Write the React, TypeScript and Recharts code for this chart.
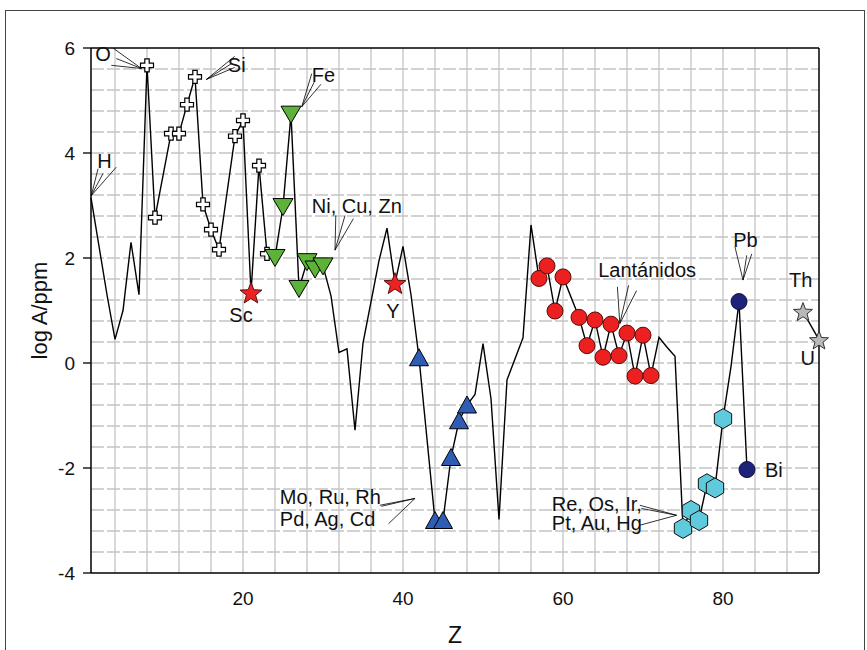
import { ScatterChart, Scatter, XAxis, YAxis, ReferenceLine, Label } from "recharts";

const FONT = '"Liberation Sans", Arial, sans-serif';

// log of abundance in the crust (ppm) against atomic number Z
const crust = [
  { z: 1, v: 3.15 }, { z: 3, v: 1.3 }, { z: 4, v: 0.45 }, { z: 5, v: 1.0 },
  { z: 6, v: 2.3 }, { z: 7, v: 1.3 }, { z: 8, v: 5.67 }, { z: 9, v: 2.77 },
  { z: 11, v: 4.37 }, { z: 12, v: 4.37 }, { z: 13, v: 4.92 }, { z: 14, v: 5.45 },
  { z: 15, v: 3.02 }, { z: 16, v: 2.54 }, { z: 17, v: 2.16 }, { z: 19, v: 4.32 },
  { z: 20, v: 4.62 }, { z: 21, v: 1.34 }, { z: 22, v: 3.76 }, { z: 23, v: 2.08 },
  { z: 24, v: 2.01 }, { z: 25, v: 2.98 }, { z: 26, v: 4.74 }, { z: 27, v: 1.42 },
  { z: 28, v: 1.93 }, { z: 29, v: 1.79 }, { z: 30, v: 1.85 }, { z: 31, v: 1.28 },
  { z: 32, v: 0.2 }, { z: 33, v: 0.27 }, { z: 34, v: -1.28 }, { z: 35, v: 0.38 },
  { z: 37, v: 1.95 }, { z: 38, v: 2.57 }, { z: 39, v: 1.52 }, { z: 40, v: 2.22 },
  { z: 41, v: 1.3 }, { z: 42, v: 0.1 }, { z: 44, v: -3.0 }, { z: 45, v: -3.0 },
  { z: 46, v: -1.8 }, { z: 47, v: -1.1 }, { z: 48, v: -0.8 }, { z: 49, v: -0.6 },
  { z: 50, v: 0.37 }, { z: 51, v: -0.68 }, { z: 52, v: -2.98 }, { z: 53, v: -0.32 },
  { z: 55, v: 0.48 }, { z: 56, v: 2.63 }, { z: 57, v: 1.61 }, { z: 58, v: 1.85 },
  { z: 59, v: 0.99 }, { z: 60, v: 1.64 }, { z: 62, v: 0.87 }, { z: 63, v: 0.33 },
  { z: 64, v: 0.82 }, { z: 65, v: 0.11 }, { z: 66, v: 0.74 }, { z: 67, v: 0.14 },
  { z: 68, v: 0.57 }, { z: 69, v: -0.25 }, { z: 70, v: 0.53 }, { z: 71, v: -0.24 },
  { z: 72, v: 0.49 }, { z: 73, v: 0.3 }, { z: 74, v: 0.13 }, { z: 75, v: -3.15 },
  { z: 76, v: -2.81 }, { z: 77, v: -3.0 }, { z: 78, v: -2.3 }, { z: 79, v: -2.38 },
  { z: 80, v: -1.06 }, { z: 81, v: -0.07 }, { z: 82, v: 1.17 }, { z: 83, v: -2.03 },
];

const actinides = [{ z: 90, v: 0.98 }, { z: 92, v: 0.44 }];

// which elements get which marker
const crossZ = [8, 9, 11, 12, 13, 14, 15, 16, 17, 19, 20, 22, 23];
const redStarZ = [21, 39];
const greenZ = [24, 25, 26, 27, 28, 29, 30];
const blueZ = [42, 44, 45, 46, 47, 48];
const lanthZ = [57, 58, 59, 60, 62, 63, 64, 65, 66, 67, 68, 69, 70, 71];
const hexZ = [75, 76, 77, 78, 79, 80];
const navyZ = [82, 83];

const pick = (zs: number[]) => crust.filter((d) => zs.includes(d.z));

const xTicks = [20, 40, 60, 80];
const yTicks = [-4, -2, 0, 2, 4, 6];
const gridX = [4, 8, 12, 16, 20, 24, 28, 32, 36, 40, 44, 48, 52, 56, 60, 64, 68, 72, 76, 80, 84, 88];
const gridY = [
  -3.6, -3.2, -2.8, -2.4, -2, -1.6, -1.2, -0.8, -0.4, 0, 0.4, 0.8, 1.2, 1.6, 2,
  2.4, 2.8, 3.2, 3.6, 4, 4.4, 4.8, 5.2, 5.6,
];

// text annotations (z, logA of the baseline)
const labels = [
  { z: 2.5, v: 5.75, text: "O", anchor: "middle" },
  { z: 18.1, v: 5.54, text: "Si", anchor: "start" },
  { z: 2.7, v: 3.71, text: "H", anchor: "middle" },
  { z: 28.6, v: 5.35, text: "Fe", anchor: "start" },
  { z: 28.6, v: 2.85, text: "Ni, Cu, Zn", anchor: "start" },
  { z: 19.75, v: 0.78, text: "Sc", anchor: "middle" },
  { z: 38.75, v: 0.85, text: "Y", anchor: "middle" },
  { z: 24.6, v: -2.69, text: "Mo, Ru, Rh", anchor: "start" },
  { z: 24.6, v: -3.11, text: "Pd, Ag, Cd", anchor: "start" },
  { z: 64.4, v: 1.64, text: "Lantánidos", anchor: "start" },
  { z: 58.6, v: -2.81, text: "Re, Os, Ir,", anchor: "start" },
  { z: 58.6, v: -3.19, text: "Pt, Au, Hg", anchor: "start" },
  { z: 82.8, v: 2.21, text: "Pb", anchor: "middle" },
  { z: 85.25, v: -2.17, text: "Bi", anchor: "start" },
  { z: 89.7, v: 1.44, text: "Th", anchor: "middle" },
  { z: 90.6, v: -0.04, text: "U", anchor: "middle" },
];

// leader lines: [from, to] in (z, logA)
const leaders = [
  [[3.75, 6.0], [7.3, 5.61]], [[4.16, 5.8], [7.3, 5.61]], [[3.54, 5.67], [7.3, 5.61]],
  [[18.96, 5.84], [15.41, 5.4]], [[18.54, 5.7], [15.41, 5.4]], [[18.96, 5.63], [15.41, 5.4]],
  [[1.88, 3.7], [1.04, 3.19]], [[2.5, 3.61], [1.04, 3.19]], [[4.16, 3.73], [1.04, 3.19]],
  [[28.59, 5.51], [27.34, 4.88]], [[28.9, 5.35], [27.34, 4.88]], [[29.75, 5.31], [27.34, 4.88]],
  [[31.6, 2.81], [31.5, 2.15]], [[32.75, 2.81], [31.5, 2.15]], [[33.8, 2.75], [31.5, 2.15]],
  [[37.1, -2.71], [41.5, -2.58]], [[37.3, -2.73], [41.5, -2.58]], [[38.2, -3.06], [41.5, -2.58]],
  [[66.8, 1.45], [67.1, 0.75]], [[68.2, 1.48], [67.1, 0.75]], [[69.2, 1.38], [67.1, 0.75]],
  [[69.6, -2.71], [74.2, -2.9]], [[69.8, -2.77], [74.2, -2.9]], [[69.6, -3.09], [74.2, -2.9]],
  [[81.5, 2.21], [82.5, 1.58]], [[82.96, 2.05], [82.5, 1.58]], [[83.6, 2.08], [82.5, 1.58]],
];

const pts = (cx: number, cy: number, list: number[][]) =>
  list.map(([x, y]) => `${cx + x},${cy + y}`).join(" ");

const Cross = (p: any) => {
  const a = 6.5, b = 2.2;
  const list = [[-b, -a], [b, -a], [b, -b], [a, -b], [a, b], [b, b], [b, a], [-b, a], [-b, b], [-a, b], [-a, -b], [-b, -b]];
  return <polygon points={pts(p.cx, p.cy, list)} fill="#fff" stroke="#000" strokeWidth={1.2} />;
};

const starList = (R: number, r: number) =>
  Array.from({ length: 10 }, (_, i) => {
    const ang = -Math.PI / 2 + (i * Math.PI) / 5;
    const rad = i % 2 === 0 ? R : r;
    return [rad * Math.cos(ang), rad * Math.sin(ang)];
  });

const makeStar = (fill: string, stroke: string, R: number) => (p: any) => (
  <polygon points={pts(p.cx, p.cy + 1, starList(R, R * 0.42))} fill={fill} stroke={stroke} strokeWidth={1} />
);

const TriDown = (p: any) => (
  <polygon points={pts(p.cx, p.cy, [[-10, -8], [10, -8], [0, 9]])} fill="#5cb338" stroke="#000" strokeWidth={1} />
);

const TriUp = (p: any) => (
  <polygon points={pts(p.cx, p.cy, [[-9.5, 8], [9.5, 8], [0, -9]])} fill="#2f5db5" stroke="#000" strokeWidth={1} />
);

const hexList = Array.from({ length: 6 }, (_, i) => {
  const ang = -Math.PI / 2 + (i * Math.PI) / 3;
  return [10 * Math.cos(ang), 10 * Math.sin(ang)];
});
const Hex = (p: any) => (
  <polygon points={pts(p.cx, p.cy, hexList)} fill="#5ecadb" stroke="#111" strokeWidth={1} />
);

const makeDot = (fill: string, stroke: string) => (p: any) => (
  <circle cx={p.cx} cy={p.cy} r={8} fill={fill} stroke={stroke} strokeWidth={1} />
);

const TextMark = (p: any) => (
  <text x={p.cx} y={p.cy} textAnchor={p.payload.anchor} fontSize={20} fontFamily={FONT} fill="#111">
    {p.payload.text}
  </text>
);

const Nothing = () => <g />;

export default function App() {
  return (
    <div style={{ position: "absolute", left: 0, top: 0, width: 867, height: 650, background: "#fff", overflow: "hidden" }}>
      <div style={{ position: "absolute", left: 5, top: 10, width: 858, height: 700, border: "1.5px solid #444" }} />
      <ScatterChart
        width={867}
        height={650}
        margin={{ top: 48, right: 48, bottom: 47, left: 41 }}
        style={{ position: "absolute", left: 0, top: 0 }}
      >
        <XAxis
          type="number"
          dataKey="z"
          domain={[1, 92]}
          ticks={xTicks}
          height={30}
          tickLine={false}
          tickSize={8}
          tickMargin={11}
          axisLine={{ stroke: "#000", strokeWidth: 1.5 }}
          tick={{ fontSize: 19, fill: "#111", fontFamily: FONT }}
        >
          <Label value="Z" position="bottom" offset={24} style={{ fontSize: 23, fill: "#111", fontFamily: FONT }} />
        </XAxis>
        <YAxis
          type="number"
          dataKey="v"
          domain={[-4, 6]}
          ticks={yTicks}
          width={50}
          tickSize={8}
          tickMargin={8}
          tickLine={{ stroke: "#000", strokeWidth: 1.3 }}
          axisLine={{ stroke: "#000", strokeWidth: 1.5 }}
          tick={{ fontSize: 19, fill: "#111", fontFamily: FONT }}
        >
          <Label value="log A/ppm" angle={-90} position="center" dx={-27} style={{ fontSize: 22, fill: "#111", fontFamily: FONT }} />
        </YAxis>

        {gridX.map((x) => (
          <ReferenceLine key={"gx" + x} x={x} stroke="#c4c4c4" strokeWidth={1.3} />
        ))}
        {gridY.map((y) => (
          <ReferenceLine key={"gy" + y} y={y} stroke="#c4c4c4" strokeWidth={1.3} strokeDasharray="13 3" />
        ))}
        <ReferenceLine y={6} stroke="#000" strokeWidth={1.5} />
        <ReferenceLine x={92} stroke="#000" strokeWidth={1.5} />

        {leaders.map((s, i) => (
          <ReferenceLine
            key={"ld" + i}
            segment={[{ x: s[0][0], y: s[0][1] }, { x: s[1][0], y: s[1][1] }]}
            stroke="#000"
            strokeWidth={0.8}
          />
        ))}

        <Scatter data={crust} line={{ stroke: "#000", strokeWidth: 1.4 }} shape={Nothing} isAnimationActive={false} />
        <Scatter data={pick(crossZ)} shape={Cross} isAnimationActive={false} />
        <Scatter data={pick(redStarZ)} shape={makeStar("#ee2222", "#5a1010", 11.5)} isAnimationActive={false} />
        <Scatter data={pick(greenZ)} shape={TriDown} isAnimationActive={false} />
        <Scatter data={pick(blueZ)} shape={TriUp} isAnimationActive={false} />
        <Scatter data={pick(lanthZ)} shape={makeDot("#ec2020", "#5a0a0a")} isAnimationActive={false} />
        <Scatter data={pick(hexZ)} shape={Hex} isAnimationActive={false} />
        <Scatter data={pick(navyZ)} shape={makeDot("#1d2379", "#0c0f40")} isAnimationActive={false} />
        <Scatter
          data={actinides}
          line={{ stroke: "#000", strokeWidth: 1.4 }}
          shape={makeStar("#b9b9b9", "#333", 10)}
          isAnimationActive={false}
        />
        <Scatter data={labels} shape={TextMark} isAnimationActive={false} />
      </ScatterChart>
    </div>
  );
}
